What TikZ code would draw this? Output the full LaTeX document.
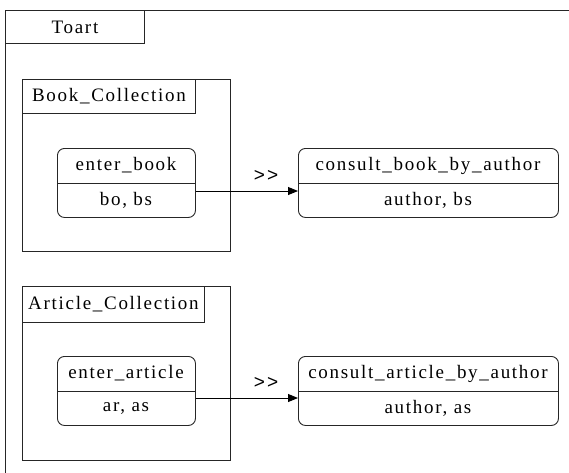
\documentclass[tikz,border=0pt]{standalone}
\usepackage{fontspec}
\setmainfont{Liberation Serif}[LetterSpace=9]
\newfontfamily\opfont{Liberation Sans}[LetterSpace=12]

\usetikzlibrary{arrows.meta}

\tikzset{
  frame/.style={draw=black!85, line width=0.9pt},
  box/.style={frame, inner sep=0pt, anchor=north west},
  tab/.style={box, font=\fontsize{19}{19}\selectfont},
  state/.style={frame, inner sep=0pt, anchor=north west, rounded corners=7pt},
  label/.style={inner sep=0pt, font=\fontsize{19}{19}\selectfont},
  oplabel/.style={inner sep=0pt, font=\opfont\fontsize{19}{19}\selectfont},
  flow/.style={draw=black, line width=0.9pt, -{Triangle[length=10pt,width=8pt]}}
}

\begin{document}
\begin{tikzpicture}[x=1pt, y=-1pt]
  \useasboundingbox (0,0) rectangle (569,472);
  \clip (0,0) rectangle (569,472);

  % enclosing system frame and its name tab
  \draw[frame] (5,10) rectangle (620,520);
  \node[tab, minimum width=139pt, minimum height=33pt] (toart) at (5,10) {Toart};

  % Book_Collection package
  \node[box, minimum width=208pt, minimum height=172pt] (bookcol) at (22,79) {};
  \node[tab, minimum width=173pt, minimum height=34pt] (booktab) at (bookcol.north west) {Book\_Collection};

  \node[state, minimum width=138pt, minimum height=69pt] (eb) at (57,148) {};
  \draw[frame] (eb.west |- 0,183) -- (eb.east |- 0,183);
  \node[label] (ebname) at (126,165.5) {enter\_book};
  \node[label] (ebattr) at (126,200) {bo, bs};

  \node[state, minimum width=260pt, minimum height=69pt] (cb) at (298,148) {};
  \draw[frame] (cb.west |- 0,183) -- (cb.east |- 0,183);
  \node[label] (cbname) at (428,165.5) {consult\_book\_by\_author};
  \node[label] (cbattr) at (428,200) {author, bs};

  \draw[flow] (eb.east |- 0,191) -- (cb.west |- 0,191);
  \node[oplabel] (bookop) at (266,176) {>>};

  % Article_Collection package
  \node[box, minimum width=208pt, minimum height=174pt] (artcol) at (22,286) {};
  \node[tab, minimum width=182pt, minimum height=36pt] (arttab) at (artcol.north west) {Article\_Collection};

  \node[state, minimum width=138pt, minimum height=69pt] (ea) at (57,356) {};
  \draw[frame] (ea.west |- 0,391) -- (ea.east |- 0,391);
  \node[label] (eaname) at (126,373.5) {enter\_article};
  \node[label] (eaattr) at (126,408) {ar, as};

  \node[state, minimum width=260pt, minimum height=69pt] (ca) at (298,356) {};
  \draw[frame] (ca.west |- 0,391) -- (ca.east |- 0,391);
  \node[label] (caname) at (428,373.5) {consult\_article\_by\_author};
  \node[label] (caattr) at (428,408) {author, as};

  \draw[flow] (ea.east |- 0,398) -- (ca.west |- 0,398);
  \node[oplabel] (artop) at (266,383) {>>};
\end{tikzpicture}
\end{document}
